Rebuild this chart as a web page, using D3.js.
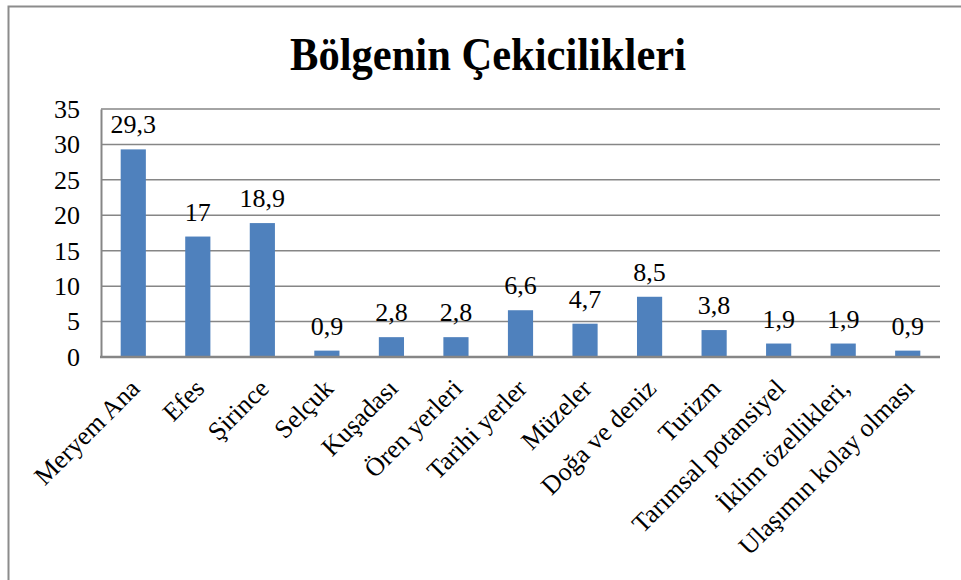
<!DOCTYPE html>
<html>
<head>
<meta charset="utf-8">
<script src="https://cdn.jsdelivr.net/npm/d3@7"></script>
<style>
  body { margin: 0; background: #fff; }
  svg text { font-family: "Liberation Serif", "Times New Roman", serif; fill: #000; }
</style>
</head>
<body>
<div id="chart"></div>
<script>
// data
const categories = ['Meryem Ana', 'Efes', 'Şirince', 'Selçuk', 'Kuşadası', 'Ören yerleri',
  'Tarihi yerler', 'Müzeler', 'Doğa ve deniz', 'Turizm', 'Tarımsal potansiyel',
  'İklim özellikleri,', 'Ulaşımın kolay olması'];
const values = [29.3, 17, 18.9, 0.9, 2.8, 2.8, 6.6, 4.7, 8.5, 3.8, 1.9, 1.9, 0.9];
const yTicks = [0, 5, 10, 15, 20, 25, 30, 35];

let w = 961, h = 580;
let plot = {left: 101, right: 940, top: 109, bottom: 357};
let serif = '"Liberation Serif", "Times New Roman", serif';

let svg = d3.select('#chart').append('svg')
  .attr('width', w)
  .attr('height', h);

// outer frame
svg.append('rect')
  .attr('x', 8.5).attr('y', 6.5)
  .attr('width', 1000).attr('height', 1000)
  .attr('fill', 'none')
  .attr('stroke', '#8c8c8c')
  .attr('stroke-width', 2);

// title
svg.append('text')
  .text('Bölgenin Çekicilikleri')
  .attr('x', 488)
  .attr('y', 70)
  .attr('text-anchor', 'middle')
  .attr('textLength', 396)
  .attr('lengthAdjust', 'spacingAndGlyphs')
  .style('font-family', serif)
  .style('font-size', '47px')
  .style('font-weight', 'bold');

let xScale = d3.scaleBand()
  .domain(categories)
  .range([plot.left, plot.right])
  .paddingInner(0.61)
  .paddingOuter(0.305);

let yScale = d3.scaleLinear()
  .domain([0, 35])
  .range([plot.bottom, plot.top]);

// gridlines
svg.append('g')
  .selectAll('line')
  .data(yTicks.filter(d => d > 0))
  .enter()
  .append('line')
  .attr('x1', plot.left)
  .attr('x2', plot.right)
  .attr('y1', d => yScale(d))
  .attr('y2', d => yScale(d))
  .attr('stroke', '#868686')
  .attr('stroke-width', 1.5);

// y axis
let yAxis = d3.axisLeft(yScale).tickValues(yTicks).tickSize(0).tickPadding(21);
let yg = svg.append('g')
  .attr('transform', 'translate(' + plot.left + ',0)')
  .attr('font-family', serif)
  .call(yAxis);
yg.select('.domain').attr('stroke', '#868686').attr('stroke-width', 2);
yg.selectAll('text')
  .style('font-size', '26px')
  .style('font-family', serif)
  .attr('fill', '#000');

// bars
svg.append('g')
  .selectAll('rect')
  .data(values)
  .enter()
  .append('rect')
  .attr('x', (d, i) => xScale(categories[i]))
  .attr('y', d => yScale(d))
  .attr('width', xScale.bandwidth())
  .attr('height', d => plot.bottom - yScale(d))
  .attr('fill', '#4F81BD');

// value labels
svg.append('g')
  .selectAll('text')
  .data(values)
  .enter()
  .append('text')
  .text(d => String(d).replace('.', ','))
  .attr('x', (d, i) => xScale(categories[i]) + xScale.bandwidth() / 2)
  .attr('y', d => yScale(d) - 16)
  .attr('text-anchor', 'middle')
  .style('font-family', serif)
  .style('font-size', '26px');

// x axis line
svg.append('line')
  .attr('x1', plot.left - 1)
  .attr('x2', plot.right)
  .attr('y1', plot.bottom)
  .attr('y2', plot.bottom)
  .attr('stroke', '#868686')
  .attr('stroke-width', 2.5);

// rotated category labels
svg.append('g')
  .selectAll('text')
  .data(categories)
  .enter()
  .append('text')
  .text(d => d)
  .attr('text-anchor', 'end')
  .attr('transform', function (d) {
    let x = xScale(d) + xScale.bandwidth() / 2 + 8
    let y = plot.bottom + 33
    return 'translate(' + x + ',' + y + ') rotate(-45)'
  })
  .style('font-family', serif)
  .style('font-size', '26px');
</script>
</body>
</html>
